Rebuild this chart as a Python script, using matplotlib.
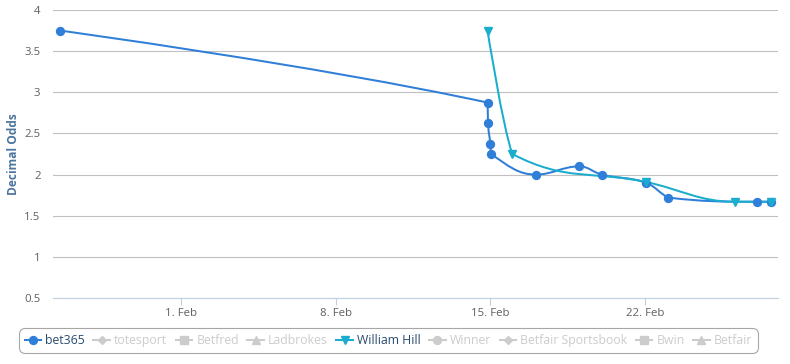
import matplotlib
matplotlib.use("Agg")
import matplotlib.pyplot as plt
import matplotlib.dates as mdates
from matplotlib.path import Path
from matplotlib.patches import PathPatch
from matplotlib.lines import Line2D
from datetime import datetime

plt.rcParams['font.family'] = ['Open Sans', 'DejaVu Sans']

# ---- data ----
bet365_dates = ["2025-01-26 12:00", "2025-02-14 21:00", "2025-02-14 21:30", "2025-02-15 00:00",
                "2025-02-15 00:45", "2025-02-17 01:30", "2025-02-19 01:00", "2025-02-20 01:15",
                "2025-02-22 01:30", "2025-02-23 01:45", "2025-02-27 02:00", "2025-02-27 17:15"]
bet365_odds = [3.75, 2.875, 2.625, 2.375, 2.25, 2.0, 2.1, 2.0, 1.9, 1.72, 1.67, 1.67]

wh_dates = ["2025-02-14 21:00", "2025-02-16 00:00", "2025-02-22 01:30", "2025-02-26 01:40",
            "2025-02-27 17:15"]
wh_odds = [3.75, 2.25, 1.91, 1.67, 1.67]

legend_names = ["bet365", "totesport", "Betfred", "Ladbrokes", "William Hill",
                "Winner", "Betfair Sportsbook", "Bwin", "Betfair"]
legend_visible = [True, False, False, False, True, False, False, False, False]
legend_markers = ["o", "D", "s", "^", "v", "o", "D", "s", "^"]

y_ticks = [0.5, 1, 1.5, 2, 2.5, 3, 3.5, 4]
x_ticks = ["2025-02-01", "2025-02-08", "2025-02-15", "2025-02-22"]

C_BET = "#2f7ed8"
C_WH = "#1aadce"


def to_num(ds):
    return [mdates.date2num(datetime.strptime(d, "%Y-%m-%d %H:%M") if " " in d
                            else datetime.strptime(d, "%Y-%m-%d")) for d in ds]


def spline_path(xs, ys, smoothing=1.5):
    """Highcharts-style spline through the points (Bezier control points)."""
    n = len(xs)
    denom = smoothing + 1
    lefts, rights = [], []
    for i in range(n):
        px, py = xs[i], ys[i]
        if 0 < i < n - 1:
            lx, ly = xs[i - 1], ys[i - 1]
            nx, ny = xs[i + 1], ys[i + 1]
            lcx = (smoothing * px + lx) / denom
            lcy = (smoothing * py + ly) / denom
            rcx = (smoothing * px + nx) / denom
            rcy = (smoothing * py + ny) / denom
            if rcx != lcx:
                corr = ((rcy - lcy) * (rcx - px)) / (rcx - lcx) + py - rcy
                lcy += corr
                rcy += corr
            if lcy > ly and lcy > py:
                lcy = max(ly, py); rcy = 2 * py - lcy
            elif lcy < ly and lcy < py:
                lcy = min(ly, py); rcy = 2 * py - lcy
            if rcy > ny and rcy > py:
                rcy = max(ny, py); lcy = 2 * py - rcy
            elif rcy < ny and rcy < py:
                rcy = min(ny, py); lcy = 2 * py - rcy
            lefts.append((lcx, lcy)); rights.append((rcx, rcy))
        else:
            lefts.append((px, py)); rights.append((px, py))
    verts = [(xs[0], ys[0])]
    codes = [Path.MOVETO]
    for i in range(1, n):
        verts += [rights[i - 1], lefts[i], (xs[i], ys[i])]
        codes += [Path.CURVE4] * 3
    return Path(verts, codes)


fig = plt.figure(figsize=(7.9, 3.64), dpi=100)
W, H = 790, 364
ax = fig.add_axes([53 / W, 1 - 298 / H, (778 - 53) / W, (298 - 10) / H])

bx = to_num(bet365_dates)
wx = to_num(wh_dates)

lw = 1.45
ax.add_patch(PathPatch(spline_path(bx, bet365_odds), fill=False, edgecolor=C_BET, lw=lw, zorder=3))
ax.add_patch(PathPatch(spline_path(wx, wh_odds), fill=False, edgecolor=C_WH, lw=lw, zorder=3))
ax.plot(bx, bet365_odds, ls="none", marker="o", ms=5.7, color=C_BET, mec=C_BET, zorder=4)
ax.plot(wx, wh_odds, ls="none", marker="v", ms=5.5, color=C_WH, mec=C_WH, zorder=4)

xmin, xmax = min(bx + wx), max(bx + wx)
pad = (xmax - xmin) * 0.01
ax.set_xlim(xmin - pad, xmax + pad)
ax.set_ylim(0.5, 4)

ax.set_yticks(y_ticks)
ax.set_yticklabels([f"{v:g}" for v in y_ticks])
xt = to_num(x_ticks)
ax.set_xticks(xt)
ax.set_xticklabels([datetime.strptime(d, "%Y-%m-%d").strftime("%-d. %b") for d in x_ticks])

for s in ["top", "right", "left"]:
    ax.spines[s].set_visible(False)
ax.spines["bottom"].set_color("#C0D0E0")
ax.spines["bottom"].set_linewidth(0.8)
ax.grid(axis="y", color="#C0C0C0", lw=0.8)
ax.set_axisbelow(True)
ax.tick_params(axis="y", length=0, pad=9, labelsize=8.2, labelcolor="#606060")
ax.tick_params(axis="x", length=5, width=0.8, color="#C0D0E0", pad=2, labelsize=8.2,
               labelcolor="#606060")
for lab in ax.get_xticklabels():
    lab.set_horizontalalignment("center")

ax.set_ylabel("Decimal Odds", fontsize=8.6, fontweight="bold", color="#4d759e", labelpad=6)
ax.yaxis.set_label_coords(-33 / (778 - 53), 0.5)

handles = []
colors = []
for name, vis, mk in zip(legend_names, legend_visible, legend_markers):
    if vis:
        c = C_BET if name == "bet365" else C_WH
    else:
        c = "#CCCCCC"
    handles.append(Line2D([], [], color=c, lw=lw, marker=mk, ms=5.7 if mk != "D" else 4.5,
                          mec=c, mfc=c))
    colors.append("#274b6d" if vis else "#CCCCCC")

leg = fig.legend(handles, legend_names, loc="center", bbox_to_anchor=(388.5 / W, 1 - 340.5 / H),
                 ncol=9, fontsize=8.8, handlelength=1.35, handletextpad=0.35,
                 columnspacing=0.68, borderpad=0.5, frameon=True, fancybox=True,
                 labelcolor=colors, edgecolor="#909090", borderaxespad=0)
leg.get_frame().set_linewidth(0.8)
leg.get_frame().set_boxstyle("round,pad=0,rounding_size=0.5")

fig.savefig("out.png", dpi=100)
